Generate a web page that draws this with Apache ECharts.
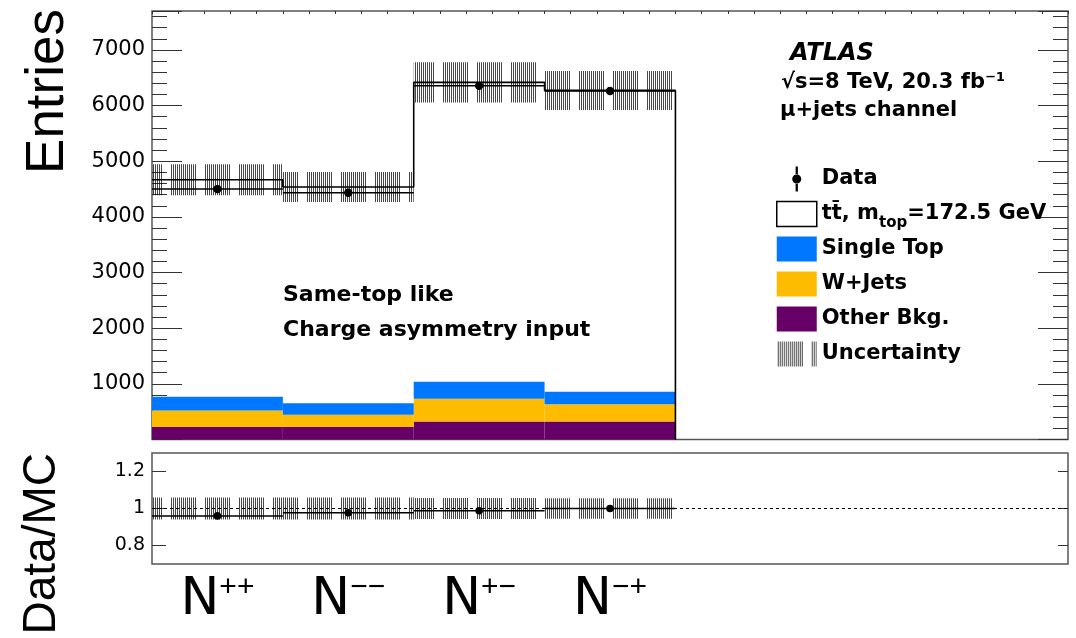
<!DOCTYPE html>
<html>
<head>
<meta charset="utf-8">
<script src="https://cdn.jsdelivr.net/npm/echarts@6/dist/echarts.min.js"></script>
<style>
html,body{margin:0;padding:0;background:#fff;}
#c{width:1076px;height:638px;}
</style>
</head>
<body>
<div id="c"></div>
<script>
// ---- data ----
const catCharges = ['++', '\u2212\u2212', '+\u2212', '\u2212+']; // N^{++}, N^{--}, N^{+-}, N^{-+}
const ttbar     = [3899, 3883, 5379, 5415];
const singleTop = [246, 209, 306, 223];
const wJets     = [297, 219, 407, 310];
const otherBkg  = [225, 225, 325, 325];
const dataCounts = [4500, 4433, 6355, 6262];
const mcUnc      = [280, 270, 360, 350];
const ratioVals  = [0.960, 0.977, 0.988, 1.000];
const ratioTicks = [0.8, 1, 1.2];
const nBinsAxis  = 7;

// ---- derived structures ----
const FONT = 'DejaVu Sans';
const n = ttbar.length;
const lvl0 = otherBkg.slice();
const lvl1 = lvl0.map((v, i) => v + wJets[i]);
const lvl2 = lvl1.map((v, i) => v + singleTop[i]);
const mcTot = lvl2.map((v, i) => v + ttbar[i]);

function hatchCanvas() {
  const c = document.createElement('canvas');
  c.width = 34; c.height = 4;
  const g = c.getContext('2d');
  g.fillStyle = 'rgba(0,0,0,0.72)';
  for (let x = 1; x < 27; x += 2) g.fillRect(x, 0, 1, 4);
  return c;
}
const hatch = { image: hatchCanvas(), repeat: 'repeat' };

function rectSeries(name, lower, upper, fill, xi, yi) {
  return {
    name: name, type: 'custom', xAxisIndex: xi, yAxisIndex: yi,
    encode: { x: 0, y: [1, 2] },
    data: lower.map((v, i) => [i, v, upper[i]]),
    renderItem: function (params, api) {
      const p0 = api.coord([api.value(0), api.value(1)]);
      const p1 = api.coord([api.value(0) + 1, api.value(2)]);
      return { type: 'rect', shape: { x: p0[0], y: p1[1], width: p1[0] - p0[0], height: p0[1] - p1[1] },
               style: { fill: fill } };
    },
    silent: true
  };
}
function pointSeries(name, vals, xi, yi, r) {
  return {
    name: name, type: 'custom', xAxisIndex: xi, yAxisIndex: yi,
    encode: { x: 0, y: 1 },
    data: vals.map((v, i) => [i, v]),
    renderItem: function (params, api) {
      const a = api.coord([api.value(0), api.value(1)]);
      const b = api.coord([api.value(0) + 1, api.value(1)]);
      return { type: 'group', children: [
        { type: 'line', shape: { x1: a[0], y1: a[1], x2: b[0], y2: b[1] }, style: { stroke: '#000', lineWidth: 1.5 } },
        { type: 'circle', shape: { cx: (a[0] + b[0]) / 2, cy: a[1], r: r }, style: { fill: '#000' } }
      ] };
    }
  };
}

const stepPts = [];
for (let i = 0; i < n; i++) stepPts.push([i, mcTot[i]]);
stepPts.push([n, mcTot[n - 1]]);
stepPts.push([n, 0]);

const tickStyle = { color: '#333', width: 1 };
const noLine = { show: false, onZero: false };

const option = {
  animation: false,
  backgroundColor: '#fff',
  textStyle: { fontFamily: FONT },
  grid: [
    { left: 152, top: 11, right: 8, height: 428.5, show: true, borderColor: '#555', borderWidth: 1.5, backgroundColor: 'transparent' },
    { left: 152, top: 453, right: 8, height: 111, show: true, borderColor: '#555', borderWidth: 1.5, backgroundColor: 'transparent' }
  ],
  xAxis: [
    { gridIndex: 0, type: 'value', min: 0, max: nBinsAxis, position: 'bottom',
      axisLine: noLine, axisTick: { show: false }, axisLabel: { show: false }, splitLine: { show: false } },
    { gridIndex: 0, type: 'value', min: 0, max: nBinsAxis, interval: 0.2, position: 'top',
      axisLine: noLine, axisTick: { show: true, inside: true, length: 3, lineStyle: tickStyle },
      axisLabel: { show: false }, splitLine: { show: false } },
    { gridIndex: 1, type: 'value', min: 0, max: nBinsAxis, interval: 0.5, position: 'bottom',
      axisLine: noLine, axisTick: { show: false }, splitLine: { show: false },
      axisLabel: {
        show: true, margin: 9, showMinLabel: true, showMaxLabel: true,
        formatter: function (v) {
          const i = Math.floor(v);
          if (Math.abs(v - i - 0.5) < 1e-9 && i < catCharges.length) return '{n|N}{s|' + catCharges[i] + '}';
          return '';
        },
        rich: {
          n: { fontFamily: 'DejaVu Sans', fontSize: 52, lineHeight: 54, color: '#000' },
          s: { fontFamily: 'Liberation Sans', fontSize: 30, lineHeight: 30, verticalAlign: 'top', color: '#000' }
        }
      } }
  ],
  yAxis: [
    { gridIndex: 0, type: 'value', min: 0, max: 7700, interval: 1000, position: 'left',
      axisLine: noLine, splitLine: { show: false },
      axisTick: { show: true, inside: true, length: 30, lineStyle: tickStyle },
      minorTick: { show: true, splitNumber: 5, length: 15, lineStyle: tickStyle },
      axisLabel: { show: true, margin: 7, fontFamily: FONT, fontSize: 21, color: '#000',
        formatter: function (v) { return (v > 0 && v % 1000 === 0) ? String(v) : ''; } } },
    { gridIndex: 0, type: 'value', min: 0, max: 7700, interval: 1000, position: 'right',
      axisLine: noLine, splitLine: { show: false },
      axisTick: { show: true, inside: true, length: 30, lineStyle: tickStyle },
      minorTick: { show: true, splitNumber: 5, length: 15, lineStyle: tickStyle },
      axisLabel: { show: false } },
    { gridIndex: 1, type: 'value', min: 0.7, max: 1.3, position: 'left',
      axisLine: noLine, splitLine: { show: false },
      axisTick: { show: true, inside: true, length: 14, customValues: ratioTicks, lineStyle: tickStyle },
      axisLabel: { show: true, margin: 7, fontFamily: FONT, fontSize: 19, color: '#000', customValues: ratioTicks,
        formatter: function (v) { return String(Math.round(v * 10) / 10); } } },
    { gridIndex: 1, type: 'value', min: 0.7, max: 1.3, position: 'right',
      axisLine: noLine, splitLine: { show: false },
      axisTick: { show: true, inside: true, length: 10, customValues: ratioTicks, lineStyle: tickStyle },
      axisLabel: { show: false } }
  ],
  legend: {
    orient: 'vertical', left: 771, top: 157, itemWidth: 40, itemHeight: 25, itemGap: 1,
    selectedMode: false,
    textStyle: { fontFamily: FONT, fontWeight: 'bold', fontSize: 21, color: '#000', lineHeight: 34,
      rich: {
        a: { fontFamily: FONT, fontWeight: 'bold', fontSize: 21, lineHeight: 34, color: '#000' },
        sub: { fontFamily: FONT, fontWeight: 'bold', fontSize: 15, lineHeight: 15, verticalAlign: 'bottom', color: '#000' }
      } },
    formatter: function (name) {
      if (name === 'ttbar') return '{a|tt\u0304, m}{sub|top}{a|=172.5 GeV}';
      return name;
    },
    data: [
      { name: 'Data', icon: 'path://M9,0 H11 V7.5 H9 Z M9,14.5 H11 V22 H9 Z M6,11 A4,4 0 1,0 14,11 A4,4 0 1,0 6,11 Z', itemStyle: { color: '#000' } },
      { name: 'ttbar', icon: 'rect', itemStyle: { color: '#fff', borderColor: '#000', borderWidth: 1.5 } },
      { name: 'Single Top', icon: 'rect', itemStyle: { color: '#0077FF' } },
      { name: 'W+Jets', icon: 'rect', itemStyle: { color: '#FFBB00' } },
      { name: 'Other Bkg.', icon: 'rect', itemStyle: { color: '#660066' } },
      { name: 'Uncertainty', icon: 'rect', itemStyle: { color: hatch } }
    ]
  },
  graphic: [
    { type: 'text', x: 48, y: 9, rotation: Math.PI / 2,
      style: { text: 'Entries', font: '53px "Liberation Sans"', fill: '#000', align: 'right', verticalAlign: 'middle' } },
    { type: 'text', x: 42, y: 453, rotation: Math.PI / 2,
      style: { text: 'Data/MC', font: '46px "Liberation Sans"', fill: '#000', align: 'right', verticalAlign: 'middle' } },
    { type: 'text', x: 790, y: 54,
      style: { text: 'ATLAS', font: 'italic bold 24px "DejaVu Sans"', fill: '#000', verticalAlign: 'middle' } },
    { type: 'text', x: 781, y: 83,
      style: { text: '\u221As=8 TeV, 20.3 fb\u207B\u00B9', font: 'bold 21px "DejaVu Sans"', fill: '#000', verticalAlign: 'middle' } },
    { type: 'text', x: 780, y: 111,
      style: { text: '\u03BC+jets channel', font: 'bold 21px "DejaVu Sans"', fill: '#000', verticalAlign: 'middle' } },
    { type: 'text', x: 283, y: 295,
      style: { text: 'Same-top like', font: 'bold 22px "DejaVu Sans"', fill: '#000', verticalAlign: 'middle' } },
    { type: 'text', x: 283, y: 330,
      style: { text: 'Charge asymmetry input', font: 'bold 22px "DejaVu Sans"', fill: '#000', verticalAlign: 'middle' } }
  ],
  series: [
    rectSeries('Other Bkg.', otherBkg.map(() => 0), lvl0, '#660066', 0, 0),
    rectSeries('W+Jets', lvl0, lvl1, '#FFBB00', 0, 0),
    rectSeries('Single Top', lvl1, lvl2, '#0077FF', 0, 0),
    rectSeries('Uncertainty', mcTot.map((v, i) => v - mcUnc[i]), mcTot.map((v, i) => v + mcUnc[i]), hatch, 0, 0),
    { name: 'ttbar', type: 'line', xAxisIndex: 0, yAxisIndex: 0, step: 'end', data: stepPts,
      symbol: 'none', lineStyle: { color: '#000', width: 1.6 }, itemStyle: { color: '#fff' }, silent: true },
    pointSeries('Data', dataCounts, 0, 0, 4.2),
    rectSeries('Uncertainty', mcUnc.map((u, i) => 1 - u / mcTot[i]), mcUnc.map((u, i) => 1 + u / mcTot[i]), hatch, 2, 2),
    Object.assign(pointSeries('Data', ratioVals, 2, 2, 3.8), {
      markLine: { silent: true, symbol: 'none', label: { show: false },
        lineStyle: { color: '#000', type: [3, 3], width: 1.2 }, data: [{ yAxis: 1 }] }
    })
  ]
};

const chart = echarts.init(document.getElementById('c'), null, { renderer: 'canvas' });
chart.setOption(option);
</script>
</body>
</html>
